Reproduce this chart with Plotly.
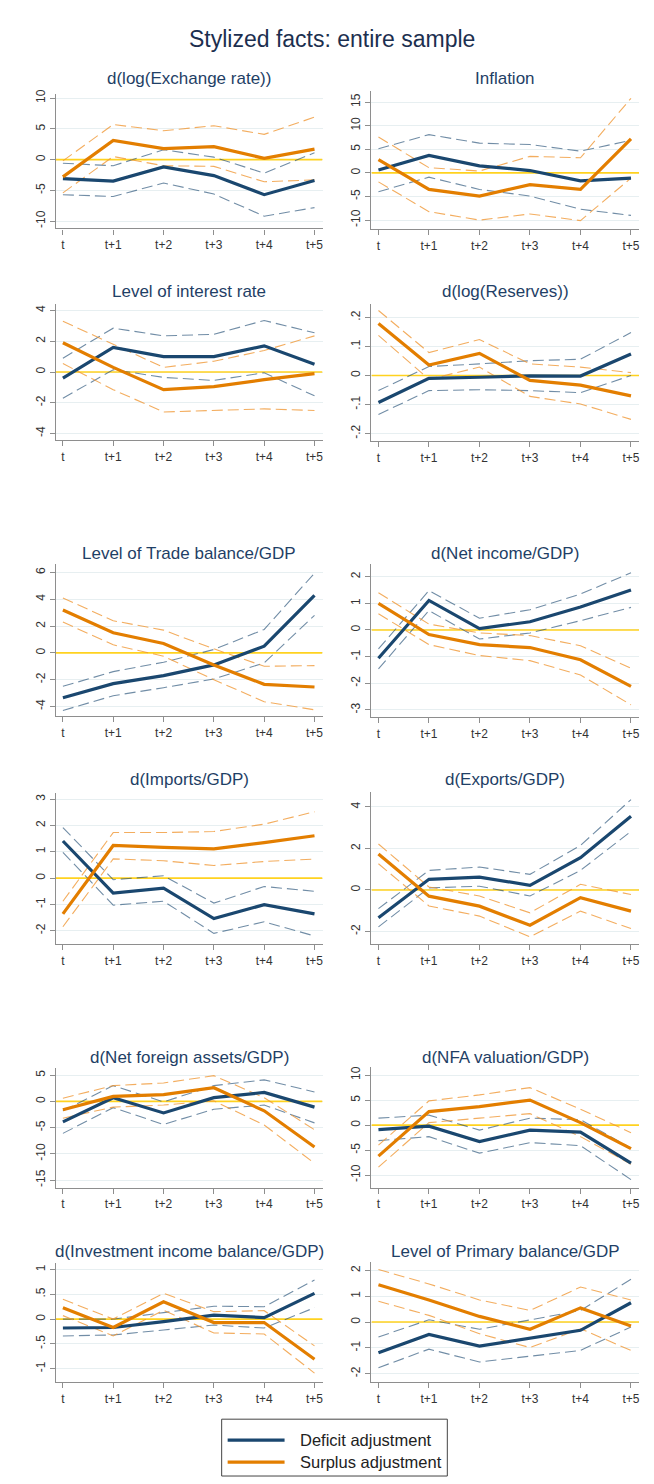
import plotly.graph_objects as go

# ---------------------------------------------------------------- data
periods = ["t", "t+1", "t+2", "t+3", "t+4", "t+5"]

# d(log(Exchange rate))
exch_def = [-3.1, -3.5, -1.2, -2.6, -5.7, -3.4]
exch_def_hi = [-0.6, -1.0, 1.6, 0.4, -2.2, 1.1]
exch_def_lo = [-5.7, -6.0, -3.8, -5.6, -9.2, -7.8]
exch_sur = [-2.8, 3.1, 1.8, 2.1, 0.2, 1.7]
exch_sur_hi = [-0.2, 5.7, 4.7, 5.5, 4.1, 6.9]
exch_sur_lo = [-5.4, 0.5, -1.0, -1.1, -3.6, -3.3]

# Inflation
infl_def = [0.6, 3.7, 1.5, 0.5, -1.7, -1.1]
infl_def_hi = [5.1, 8.1, 6.3, 6.0, 4.6, 6.9]
infl_def_lo = [-4.0, -0.9, -3.5, -4.9, -7.7, -9.0]
infl_sur = [2.8, -3.5, -4.9, -2.5, -3.5, 7.2]
infl_sur_hi = [7.6, 1.1, 0.4, 3.5, 3.2, 15.8]
infl_sur_lo = [-1.9, -8.2, -10.0, -8.7, -10.1, -1.1]

# Level of interest rate
rate_def = [-0.4, 1.6, 1.0, 1.0, 1.7, 0.5]
rate_def_hi = [0.9, 2.85, 2.35, 2.45, 3.35, 2.55]
rate_def_lo = [-1.7, 0.15, -0.35, -0.55, -0.05, -1.55]
rate_sur = [1.9, 0.3, -1.15, -0.95, -0.5, -0.1]
rate_sur_hi = [3.3, 1.8, 0.3, 0.7, 1.4, 2.35]
rate_sur_lo = [0.55, -1.15, -2.6, -2.5, -2.4, -2.5]

# d(log(Reserves))
res_def = [-0.093, -0.010, -0.006, -0.001, -0.002, 0.074]
res_def_hi = [-0.052, 0.031, 0.040, 0.051, 0.056, 0.148]
res_def_lo = [-0.134, -0.052, -0.049, -0.052, -0.059, 0.0]
res_sur = [0.179, 0.036, 0.076, -0.017, -0.033, -0.070]
res_sur_hi = [0.224, 0.079, 0.124, 0.040, 0.029, 0.010]
res_sur_lo = [0.138, -0.013, 0.029, -0.072, -0.098, -0.151]

# Level of Trade balance/GDP
tb_def = [-3.35, -2.3, -1.7, -0.9, 0.5, 4.3]
tb_def_hi = [-2.5, -1.4, -0.7, 0.25, 1.75, 5.95]
tb_def_lo = [-4.3, -3.2, -2.6, -1.95, -0.75, 2.8]
tb_sur = [3.2, 1.5, 0.7, -0.9, -2.35, -2.55]
tb_sur_hi = [4.1, 2.4, 1.7, 0.3, -1.0, -0.95]
tb_sur_lo = [2.3, 0.6, -0.25, -2.0, -3.65, -4.25]

# d(Net income/GDP)
ni_def = [-1.06, 1.11, 0.05, 0.31, 0.86, 1.5]
ni_def_hi = [-0.71, 1.48, 0.44, 0.76, 1.35, 2.15]
ni_def_lo = [-1.46, 0.73, -0.34, -0.11, 0.35, 0.85]
ni_sur = [1.0, -0.17, -0.55, -0.66, -1.12, -2.12]
ni_sur_hi = [1.4, 0.22, -0.11, -0.21, -0.59, -1.44]
ni_sur_lo = [0.61, -0.55, -0.96, -1.15, -1.69, -2.81]

# d(Imports/GDP)
imp_def = [1.41, -0.57, -0.38, -1.54, -1.01, -1.36]
imp_def_hi = [1.92, -0.06, 0.09, -0.95, -0.32, -0.5]
imp_def_lo = [0.98, -1.03, -0.88, -2.1, -1.66, -2.2]
imp_sur = [-1.36, 1.24, 1.17, 1.11, 1.35, 1.61]
imp_sur_hi = [-0.88, 1.73, 1.73, 1.77, 2.05, 2.52]
imp_sur_lo = [-1.85, 0.73, 0.66, 0.48, 0.63, 0.72]

# d(Exports/GDP)
exp_def = [-1.34, 0.51, 0.62, 0.22, 1.55, 3.55]
exp_def_hi = [-0.9, 0.94, 1.1, 0.75, 2.14, 4.35]
exp_def_lo = [-1.78, 0.1, 0.18, -0.29, 0.94, 2.82]
exp_sur = [1.73, -0.3, -0.78, -1.7, -0.37, -1.02]
exp_sur_hi = [2.21, 0.14, -0.29, -1.1, 0.27, -0.22]
exp_sur_lo = [1.26, -0.77, -1.26, -2.26, -1.02, -1.86]

# d(Net foreign assets/GDP)
nfa_def = [-3.9, 0.7, -2.2, 0.7, 1.7, -1.1]
nfa_def_hi = [-1.8, 3.0, -0.1, 3.0, 4.1, 1.8]
nfa_def_lo = [-6.1, -1.2, -4.4, -1.5, -0.7, -4.1]
nfa_sur = [-1.6, 0.95, 1.3, 2.6, -1.8, -8.7]
nfa_sur_hi = [0.6, 3.0, 3.5, 4.9, 0.7, -5.4]
nfa_sur_lo = [-3.2, -1.1, -0.7, 0.1, -4.5, -11.8]

# d(NFA valuation/GDP)
val_def = [-0.9, -0.2, -3.3, -1.0, -1.4, -7.6]
val_def_hi = [1.4, 2.0, -1.0, 1.4, 1.1, -4.6]
val_def_lo = [-3.1, -2.3, -5.6, -3.5, -4.1, -10.9]
val_sur = [-6.2, 2.7, 3.7, 5.0, 0.5, -4.7]
val_sur_hi = [-4.0, 4.85, 6.05, 7.5, 3.2, -1.5]
val_sur_lo = [-8.4, 0.5, 1.4, 2.3, -2.3, -7.8]

# d(Investment income balance/GDP)
inv_def = [-0.18, -0.17, -0.05, 0.08, 0.03, 0.52]
inv_def_hi = [0.0, 0.0, 0.13, 0.26, 0.25, 0.79]
inv_def_lo = [-0.34, -0.32, -0.22, -0.12, -0.18, 0.23]
inv_sur = [0.23, -0.17, 0.35, -0.07, -0.07, -0.81]
inv_sur_hi = [0.4, 0.0, 0.52, 0.15, 0.17, -0.54]
inv_sur_lo = [0.07, -0.34, 0.18, -0.28, -0.3, -1.09]

# Level of Primary balance/GDP
pb_def = [-1.19, -0.48, -0.93, -0.61, -0.32, 0.75]
pb_def_hi = [-0.58, 0.09, -0.28, 0.09, 0.45, 1.66]
pb_def_lo = [-1.77, -1.05, -1.55, -1.33, -1.1, -0.19]
pb_sur = [1.45, 0.86, 0.22, -0.28, 0.55, -0.15]
pb_sur_hi = [2.04, 1.48, 0.86, 0.45, 1.36, 0.86]
pb_sur_lo = [0.81, 0.26, -0.45, -0.99, -0.26, -1.1]

# y-axis tick values and labels
ticks_exch = [-10, -5, 0, 5, 10]
ticks_infl = [-10, -5, 0, 5, 10, 15]
ticks_rate = [-4, -2, 0, 2, 4]
ticks_res = [-0.2, -0.1, 0, 0.1, 0.2]
labels_res = ["-.2", "-.1", "0", ".1", ".2"]
ticks_tb = [-4, -2, 0, 2, 4, 6]
ticks_ni = [-3, -2, -1, 0, 1, 2]
ticks_imp = [-2, -1, 0, 1, 2, 3]
ticks_exp = [-2, 0, 2, 4]
ticks_nfa = [-15, -10, -5, 0, 5]
ticks_val = [-10, -5, 0, 5, 10]
ticks_inv = [-1, -0.5, 0, 0.5, 1]
labels_inv = ["-1", "-.5", "0", ".5", "1"]
ticks_pb = [-2, -1, 0, 1, 2]

titles = [
    "d(log(Exchange rate))", "Inflation",
    "Level of interest rate", "d(log(Reserves))",
    "Level of Trade balance/GDP", "d(Net income/GDP)",
    "d(Imports/GDP)", "d(Exports/GDP)",
    "d(Net foreign assets/GDP)", "d(NFA valuation/GDP)",
    "d(Investment income balance/GDP)", "Level of Primary balance/GDP",
]
legend_labels = ["Deficit adjustment", "Surplus adjustment"]
main_title = "Stylized facts: entire sample"

panels = [
    (exch_def, exch_def_hi, exch_def_lo, exch_sur, exch_sur_hi, exch_sur_lo, ticks_exch, None),
    (infl_def, infl_def_hi, infl_def_lo, infl_sur, infl_sur_hi, infl_sur_lo, ticks_infl, None),
    (rate_def, rate_def_hi, rate_def_lo, rate_sur, rate_sur_hi, rate_sur_lo, ticks_rate, None),
    (res_def, res_def_hi, res_def_lo, res_sur, res_sur_hi, res_sur_lo, ticks_res, labels_res),
    (tb_def, tb_def_hi, tb_def_lo, tb_sur, tb_sur_hi, tb_sur_lo, ticks_tb, None),
    (ni_def, ni_def_hi, ni_def_lo, ni_sur, ni_sur_hi, ni_sur_lo, ticks_ni, None),
    (imp_def, imp_def_hi, imp_def_lo, imp_sur, imp_sur_hi, imp_sur_lo, ticks_imp, None),
    (exp_def, exp_def_hi, exp_def_lo, exp_sur, exp_sur_hi, exp_sur_lo, ticks_exp, None),
    (nfa_def, nfa_def_hi, nfa_def_lo, nfa_sur, nfa_sur_hi, nfa_sur_lo, ticks_nfa, None),
    (val_def, val_def_hi, val_def_lo, val_sur, val_sur_hi, val_sur_lo, ticks_val, None),
    (inv_def, inv_def_hi, inv_def_lo, inv_sur, inv_sur_hi, inv_sur_lo, ticks_inv, labels_inv),
    (pb_def, pb_def_hi, pb_def_lo, pb_sur, pb_sur_hi, pb_sur_lo, ticks_pb, None),
]

# ---------------------------------------------------------------- layout geometry (pixels)
W, H = 654, 1484
FONT = "Liberation Sans, Arial, sans-serif"
NAVY = "#1a476f"
ORANGE = "#e37e00"
NAVY_CI = "rgba(26,71,111,0.62)"
ORANGE_CI = "rgba(240,150,50,0.78)"
ZERO = "#ffd21f"
AXIS = "#8e8e8e"
GRID = "#e7eff1"
TITLE_C = "#1f3f66"

COLS = [(56, 323), (372, 640)]
# (top px, bottom px, y min, y max, title centre px)
BOXES = [
    (90, 225, -11.18, 10.70, 75),
    (87, 225.7, -11.90, 17.39, 75),
    (300.7, 437.3, -4.43, 4.43, 288),
    (300.7, 438.3, -0.226, 0.2467, 288),
    (562, 714, -4.72, 6.60, 551),
    (562, 715, -3.27, 2.46, 551),
    (790.7, 942.7, -2.51, 3.25, 778),
    (790, 942.7, -2.61, 4.72, 778),
    (1066.7, 1186.7, -16.41, 6.39, 1056),
    (1066, 1186.7, -12.47, 11.6, 1056),
    (1262.3, 1381.7, -1.27, 1.135, 1251),
    (1261.7, 1381.7, -2.325, 2.32, 1251),
]
XRANGE = [-0.139, 5.159]


def fx(p):
    return p / W


def fy(p):
    return 1 - p / H


x_idx = list(range(len(periods)))
fig = go.Figure()
layout = dict(
    width=W, height=H,
    margin=dict(l=0, r=0, t=0, b=0),
    paper_bgcolor="white", plot_bgcolor="white",
    showlegend=False,
    font=dict(family=FONT, color="#333333"),
)
shapes = []
annotations = []

for i, (d, dhi, dlo, s, shi, slo, tv, tt) in enumerate(panels):
    col = i % 2
    top, bot, ymin, ymax, ty = BOXES[i]
    x0, x1 = COLS[col]
    n = i + 1
    xa = "x" if n == 1 else f"x{n}"
    ya = "y" if n == 1 else f"y{n}"
    xkey = "xaxis" if n == 1 else f"xaxis{n}"
    ykey = "yaxis" if n == 1 else f"yaxis{n}"

    # horizontal reference line at zero across the plot area (under the series)
    fig.add_trace(go.Scatter(
        x=XRANGE, y=[0, 0], mode="lines", xaxis=xa, yaxis=ya,
        line=dict(color=ZERO, width=1.6), hoverinfo="skip",
    ))

    for vals, color, width, dash in [
        (dhi, NAVY_CI, 1.1, "11px,5px"),
        (dlo, NAVY_CI, 1.1, "11px,5px"),
        (shi, ORANGE_CI, 1.1, "11px,5px"),
        (slo, ORANGE_CI, 1.1, "11px,5px"),
        (d, NAVY, 3.2, "solid"),
        (s, ORANGE, 3.2, "solid"),
    ]:
        fig.add_trace(go.Scatter(
            x=x_idx, y=vals, mode="lines", xaxis=xa, yaxis=ya,
            line=dict(color=color, width=width, dash=dash),
            hoverinfo="skip",
        ))

    layout[xkey] = dict(
        domain=[fx(x0), fx(x1)], anchor=ya, range=XRANGE,
        tickmode="array", tickvals=x_idx, ticktext=periods,
        showgrid=False, zeroline=False,
        showline=True, linecolor=AXIS, linewidth=1.3,
        ticks="outside", ticklen=5, tickwidth=1.2, tickcolor=AXIS,
        tickfont=dict(size=12, color="#333333", family=FONT),
        fixedrange=True,
    )
    layout[ykey] = dict(
        domain=[fy(bot), fy(top)], anchor=xa, range=[ymin, ymax],
        tickmode="array", tickvals=tv,
        ticktext=tt if tt is not None else [f"{v:g}" for v in tv],
        tickangle=-90,
        showgrid=True, gridcolor=GRID, gridwidth=1,
        zeroline=False,
        showline=True, linecolor=AXIS, linewidth=1.3,
        ticks="outside", ticklen=5, tickwidth=1.2, tickcolor=AXIS,
        tickfont=dict(size=12, color="#333333", family=FONT),
        fixedrange=True,
    )
    annotations.append(dict(
        text=titles[i], xref="paper", yref="paper",
        x=fx((x0 + x1) / 2), y=fy(ty), xanchor="center", yanchor="middle",
        showarrow=False, font=dict(size=17, color=TITLE_C, family=FONT),
    ))

# overall title
annotations.append(dict(
    text=main_title, xref="paper", yref="paper",
    x=fx(333), y=fy(35), xanchor="center", yanchor="middle",
    showarrow=False, font=dict(size=23, color="#1c2f4f", family=FONT),
))

# legend box drawn in paper space
shapes.append(dict(
    type="rect", xref="paper", yref="paper",
    x0=fx(222), x1=fx(448), y0=fy(1476), y1=fy(1419),
    line=dict(color="#444444", width=1), fillcolor="white", layer="below",
))
for label, color, yy in [(legend_labels[0], NAVY, 1440),
                         (legend_labels[1], ORANGE, 1462)]:
    shapes.append(dict(
        type="line", xref="paper", yref="paper",
        x0=fx(228), x1=fx(285), y0=fy(yy), y1=fy(yy),
        line=dict(color=color, width=3.2),
    ))
    annotations.append(dict(
        text=label, xref="paper", yref="paper",
        x=fx(298), y=fy(yy), xanchor="left", yanchor="middle",
        showarrow=False, font=dict(size=16.5, color="#222222", family=FONT),
    ))

layout["shapes"] = shapes
layout["annotations"] = annotations
fig.update_layout(**layout)
fig.write_html("out.html")
